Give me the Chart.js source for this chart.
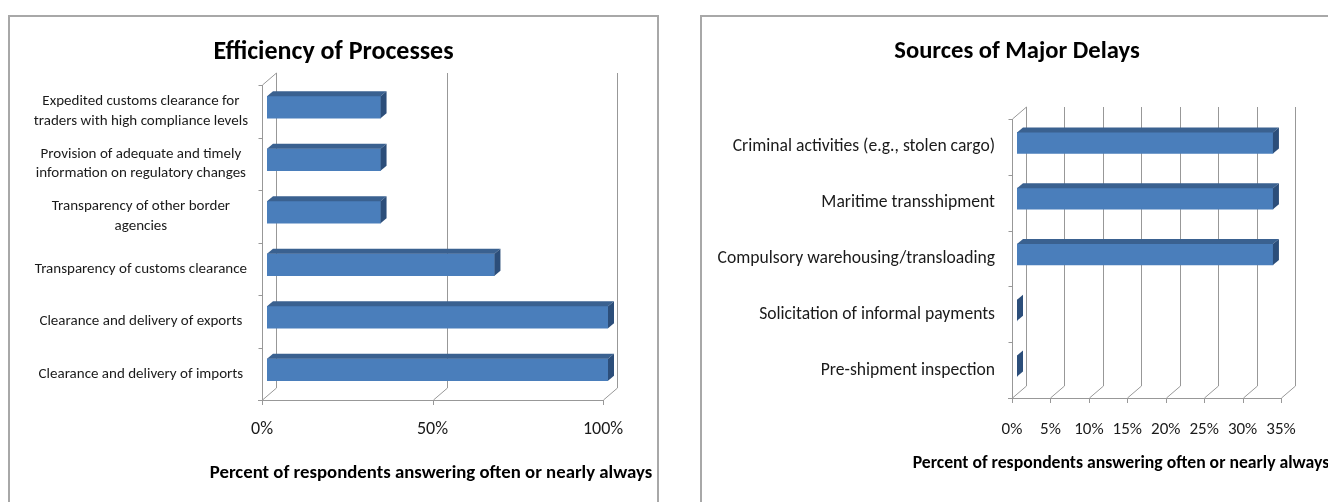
<!DOCTYPE html>
<html><head><meta charset="utf-8">
<script src="https://cdn.jsdelivr.net/npm/chart.js@4.4.1/dist/chart.umd.min.js"></script>
<style>
html,body{margin:0;padding:0;background:#fff;width:1328px;height:502px;overflow:hidden;}
.box{position:absolute;border:2px solid #A8A8A8;background:#fff;}
#b1{left:8px;top:15px;width:647px;height:500px;}
#b2{left:700px;top:15px;width:640px;height:500px;}
canvas{display:block}
</style></head><body>
<div class="box" id="b1"><canvas id="c1" width="647" height="485" style="width:647px;height:485px"></canvas></div>
<div class="box" id="b2"><canvas id="c2" width="630" height="485" style="width:630px;height:485px"></canvas></div>
<script>
// ---- data ----
const effTitle = 'Efficiency of Processes';
const effCategories = [
  ['Expedited customs clearance for', 'traders with high compliance levels'],
  ['Provision of adequate and timely', 'information on regulatory changes'],
  ['Transparency of other border', 'agencies'],
  'Transparency of customs clearance',
  'Clearance and delivery of exports',
  'Clearance and delivery of imports'
];
const effValues = [33.3, 33.3, 33.3, 66.7, 100, 100];
const effTicks = [0, 50, 100];

const delayTitle = 'Sources of Major Delays';
const delayCategories = [
  'Criminal activities (e.g., stolen cargo)',
  'Maritime transshipment',
  'Compulsory warehousing/transloading',
  'Solicitation of informal payments',
  'Pre-shipment inspection'
];
const delayValues = [33.3, 33.3, 33.3, 0, 0];
const delayTicks = [0, 5, 10, 15, 20, 25, 30, 35];

const axisTitle = 'Percent of respondents answering often or nearly always';

// ---- style ----
const FONT = "Carlito, 'Liberation Sans Narrow', 'Open Sans', sans-serif";
const DX = 14, DY = -12;   // wall depth
const BX = 5, BY = -4;     // bar front offset
const SX = 6, SY = -5;     // bar depth

const threeD = {
  id: 'threeD',
  beforeDatasetsDraw(chart) {
    const {ctx, chartArea: a, scales: {x, y}} = chart;
    ctx.save();
    ctx.strokeStyle = '#989898';
    ctx.lineWidth = 1;
    ctx.beginPath();
    x.ticks.forEach((t, i) => {
      const px = Math.round(x.getPixelForTick(i)) + 0.5;
      ctx.moveTo(px + DX, a.bottom + DY); ctx.lineTo(px + DX, a.top + DY);
      ctx.moveTo(px, a.bottom); ctx.lineTo(px + DX, a.bottom + DY);
      ctx.moveTo(px, a.bottom); ctx.lineTo(px, a.bottom + 5);
    });
    const bY = Math.round(a.bottom) + 0.5, lX = Math.round(a.left) + 0.5;
    ctx.moveTo(a.left - 4, bY); ctx.lineTo(a.right, bY);
    ctx.moveTo(lX, a.top); ctx.lineTo(lX, a.bottom);
    ctx.moveTo(lX, a.top); ctx.lineTo(lX + DX, a.top + DY);
    const n = chart.data.labels.length;
    for (let i = 0; i <= n; i++) {
      const py = Math.round(y.getPixelForValue(i - 0.5)) + 0.5;
      ctx.moveTo(lX - 4, py); ctx.lineTo(lX, py);
    }
    ctx.stroke();
    ctx.restore();
    ctx.save();
    ctx.translate(BX, BY);
  },
  afterDatasetsDraw(chart) {
    const ctx = chart.ctx;
    ctx.restore();
    const meta = chart.getDatasetMeta(0);
    meta.data.forEach(bar => {
      const p = bar.getProps(['x', 'y', 'base', 'height'], true);
      const x0 = p.base + BX, x1 = p.x + BX;
      const y0 = p.y - p.height / 2 + BY, y1 = p.y + p.height / 2 + BY;
      ctx.save();
      ctx.fillStyle = '#3A6190';
      ctx.beginPath();
      ctx.moveTo(x0, y0); ctx.lineTo(x1, y0); ctx.lineTo(x1 + SX, y0 + SY); ctx.lineTo(x0 + SX, y0 + SY);
      ctx.closePath(); ctx.fill();
      ctx.fillStyle = '#2C4E7A';
      ctx.beginPath();
      ctx.moveTo(x1, y0); ctx.lineTo(x1 + SX, y0 + SY); ctx.lineTo(x1 + SX, y1 + SY); ctx.lineTo(x1, y1);
      ctx.closePath(); ctx.fill();
      ctx.restore();
    });
  },
  afterDraw(chart, args, opts) {
    // axis title is wider than the plot, so drawn without Chart.js's maxWidth squeeze
    const ctx = chart.ctx;
    ctx.save();
    ctx.font = "bold " + opts.size + "px " + FONT;
    ctx.fillStyle = '#000';
    ctx.textAlign = 'center';
    ctx.textBaseline = 'middle';
    ctx.fillText(opts.text, opts.cx, opts.cy);
    ctx.restore();
  }
};

function makeChart(id, cfg) {
  const tLH = cfg.titleSize * 1.2;
  const tTop = 35 - tLH / 2;
  return new Chart(document.getElementById(id), {
    type: 'bar',
    data: {
      labels: cfg.labels,
      datasets: [{
        data: cfg.values,
        backgroundColor: '#4A7EBB',
        borderWidth: 0,
        barThickness: cfg.barThickness,
        yAxisID: 'y'
      }]
    },
    plugins: [threeD],
    options: {
      indexAxis: 'y',
      responsive: false,
      animation: false,
      events: [],
      layout: {padding: 0},
      plugins: {
        legend: {display: false},
        tooltip: {enabled: false},
        threeD: {text: axisTitle, cx: cfg.axisTitleX, cy: cfg.axisTitleY, size: cfg.axisTitleSize},
        title: {
          display: true, text: cfg.title, color: '#000',
          font: {family: FONT, size: cfg.titleSize, weight: 'bold', lineHeight: 1.2},
          padding: {top: tTop, bottom: cfg.plotTop - tTop - tLH}
        }
      },
      scales: {
        x: {
          type: 'linear', min: cfg.ticks[0], max: cfg.ticks[cfg.ticks.length - 1],
          afterBuildTicks: s => { s.ticks = cfg.ticks.map(v => ({value: v})); },
          afterFit: s => { s.height = cfg.xHeight; },
          grid: {display: false, drawTicks: false},
          border: {display: false},
          ticks: {
            callback: v => v + '%', padding: cfg.xTickPad, color: '#1a1a1a',
            maxRotation: 0, autoSkip: false,
            font: {family: FONT, size: cfg.xTickSize, lineHeight: 1.2}
          },
          title: {display: false}
        },
        y: {
          type: 'category', offset: true, position: 'left',
          afterFit: s => { s.width = cfg.yWidth; },
          grid: {display: false, drawTicks: true, tickLength: cfg.yTickLen},
          border: {display: false},
          ticks: {
            crossAlign: cfg.crossAlign, padding: cfg.yTickPad, color: '#1a1a1a',
            autoSkip: false,
            font: {family: FONT, size: cfg.yTickSize, lineHeight: 1.3}
          }
        },
        yR: {
          type: 'category', offset: true, position: 'right',
          afterFit: s => { s.width = cfg.rightGap; },
          grid: {display: false, drawTicks: false},
          border: {display: false},
          ticks: {display: false}
        }
      }
    }
  });
}

makeChart('c1', {
  labels: effCategories, values: effValues, ticks: effTicks, title: effTitle,
  titleSize: 26, plotTop: 68,
  rightGap: 54, xHeight: 102, xTickPad: 19, xTickSize: 18,
  axisTitleX: 421, axisTitleY: 456, axisTitleSize: 18.8,
  yWidth: 252, yTickLen: 14, yTickPad: 0,
  crossAlign: 'center', yTickSize: 15, barThickness: 22
});
makeChart('c2', {
  labels: delayCategories, values: delayValues, ticks: delayTicks, title: delayTitle,
  titleSize: 24.6, plotTop: 102,
  rightGap: 51, xHeight: 104, xTickPad: 22, xTickSize: 17,
  axisTitleX: 419, axisTitleY: 447, axisTitleSize: 17.7,
  yWidth: 310, yTickLen: 0, yTickPad: 17,
  crossAlign: 'near', yTickSize: 17.6, barThickness: 21
});
</script>
</body></html>
